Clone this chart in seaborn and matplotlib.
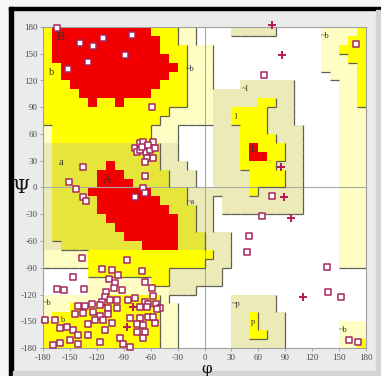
import numpy as np
import pandas as pd
import matplotlib
matplotlib.use("Agg")
import matplotlib.pyplot as plt
import seaborn as sns
from matplotlib.colors import ListedColormap
from matplotlib.collections import LineCollection
from matplotlib.patches import Rectangle

# ---------------- data ----------------
# Region map, 10-degree cells. Rows: psi 170..180 (top) down to -180..-170 (bottom)
# Columns: phi -180..-170 (left) to 170..180 (right)
# R core, Y allowed (b/l/p), A allowed (a), P generous (~b), Q generous (~a/~l/~p), W disallowed
REGION_ROWS = [
    "YRRRRR" "RRRRRR" "YYYPPW" "WWWQQQ" "QQWWWW" "WPPPPY",  # 170
    "YRRRRR" "RRRRRR" "RYYPPW" "WWWWWW" "WWWWWW" "WPPPYY",  # 160
    "YRRRRR" "RRRRRR" "RYYYPP" "PWWWWW" "WWWWWW" "WPPYYY",  # 150
    "YRRRRR" "RRRRRR" "RRYYPP" "PWWWWW" "WWWWWW" "WPPPYY",  # 140
    "YYRRRR" "RRRRRR" "RRRYPP" "PWWWWW" "WWWWWW" "WPPPPY",  # 130
    "YYRRRR" "RRRRRR" "RRYYPP" "PWWWWW" "WWWWWW" "WWPPPY",  # 120
    "YYYRRR" "RRRRRR" "RYYYPP" "PWWWQQ" "QQQQWW" "WWWPPY",  # 110
    "YYYYRR" "RRRRRR" "YYYYPP" "PQQQQQ" "QQQQWW" "WWWPPY",  # 100
    "YYYYYR" "YYRYYY" "YYYYPP" "PQQQQQ" "YYQQWW" "WWWPPY",  # 90
    "YYYYYY" "YYYYYY" "YYPPPP" "PQQYYY" "YQQQWW" "WWWPPP",  # 80
    "YYYYYY" "YYYYYY" "YPPPPP" "PQQYYY" "YQQQWW" "WWWPPP",  # 70
    "PYYYYY" "YYYYYY" "PPPWWW" "WQQQYY" "YQQQQW" "WWWPPP",  # 60
    "PYYYYY" "YYYYYY" "PPPWWW" "WQQQYY" "YYQQQW" "WWWPPP",  # 50
    "QAAAAA" "AAAAAA" "AQQWWW" "WQQQYR" "YYYQQW" "WWWPPP",  # 40
    "QAAAAA" "AAAAAA" "AQQWWW" "WQQQYR" "RYYQQW" "WWWPPP",  # 30
    "QAAAAA" "ARAAAA" "AQQQWW" "WQQQYY" "YYQQQW" "WWWPPP",  # 20
    "QAAAAA" "RRRAAA" "AAQQQW" "WQQQQY" "YYYQQW" "WWWPPP",  # 10
    "QAAAAA" "RRRRAA" "AAQQQW" "WQQQQY" "YYYQQW" "WWWPPP",  # 0
    "QAAAAR" "RRRRRR" "AAAAQQ" "QQQQQY" "QQQQQW" "WWWPPP",  # -10
    "QAAAAA" "RRRRRR" "RAAAQQ" "QWQQQQ" "QQQQQW" "WWWPPP",  # -20
    "QAAAAA" "RRRRRR" "RRAAAQ" "QWQQQQ" "QQQQQW" "WWWPPP",  # -30
    "QAAAAA" "ARRRRR" "RRRAAQ" "QWWWWW" "WWWWWW" "WWWPPP",  # -40
    "QAAAAA" "AARRRR" "RRRAAQ" "QWWWWW" "WWWWWW" "WWWPPP",  # -50
    "QAAAAA" "AAARRR" "RRRAAA" "QQQWWW" "WWWWWW" "WWWPPP",  # -60
    "QQAAAA" "AAAAAR" "RRRAAA" "QQQWWW" "WWWWWW" "WWWPPP",  # -70
    "PPPPPY" "YYYYYY" "YYYYYY" "YQQWWW" "WWWWWW" "WWWPPP",  # -80
    "PPPPPY" "YYYYYY" "YYYYYY" "QQQWWW" "WWWWWW" "WWWPPP",  # -90
    "WWWWWY" "YYYYYY" "YYQQQQ" "QQWWWW" "WWWWWW" "WWWWWW",  # -100
    "WWWWWP" "PPPPPP" "YYQQQQ" "QQWWWW" "WWWWWW" "WWWWWW",  # -110
    "WWWWWP" "PPPPPP" "PPQQQW" "WWWWWW" "WWWWWW" "WWWWWW",  # -120
    "PPPPPP" "PYYYYY" "YPWWWW" "WWWQQQ" "QQWWWW" "WWWWWW",  # -130
    "PPPYYY" "YYYYYY" "YPPWWW" "WWWQQQ" "QQWWWW" "WWWWWW",  # -140
    "PYYYYY" "YYYYYY" "YPPWWW" "WWWQQY" "QQQWWW" "WWWWWW",  # -150
    "YYYYYY" "YYYYYY" "YPPWWW" "WWWQQY" "QQQWWW" "WWWPPP",  # -160
    "YYYYYY" "YYYYYY" "YPPWWW" "WWWQQY" "YQQWWW" "WWWPPP",  # -170
    "YYYYYY" "YYYYYY" "YPPWWW" "WWWQQQ" "QQQWWW" "WWWPPY",  # -180
]
REGION_CODES = ["W", "P", "Q", "Y", "A", "R"]
REGION_COLORS = ["#ffffff", "#fefec4", "#ecebb8", "#ffff00", "#e6e63a", "#f20000"]
REGION_LEVEL = {"W": 0, "P": 1, "Q": 1, "Y": 2, "A": 2, "R": 3}

square_phi = [-164, -138.5, -124.6, -113, -81, -129.4, -151.7, -88.5, -58.8,
              -77.4, -71.8, -68.1, -56.9, -65.1, -75.5, -60.7, -55.1, -71.8, -64.4,
              -56.9, -66.3, -69.9, -62.5,
              -135, -150.6, -143.2, -135, -132, -66.3, -68.1, -66.3, -77.4,
              -136.8, -86.7, -114.6, -103.4, -69.9, -146.1, -106.0, -96.7, -99.7,
              -65.9, -164.7, -156.5, -134.2, -100.8, -92.3, -110.1, -57.0, -58.8,
              -110.8, -105.3, -97.1, -114.6, -77.4, -84.8, -66.2, -62.5, -54.0,
              -49.5, -140.6, -133.1, -125.7, -116.4, -107.1, -97.1, -71.8, -64.4,
              -53.2, -144.3, -135.0, -123.8, -107.1, -116.4, -83.0, -71.8, -62.5,
              -177.7, -166.6, -129.4, -122.0, -112.7, -103.4, -153.6, -146.1,
              -161.0, -75.5, -68.1, -55.1, -110.8, -75.5, -66.2, -140.6, -129.4,
              -94.1, -68.1, -149.9, -168.4, -161.0, -140.6, -116.4, -90.4, -83.0,
              -57.7,
              66.8, 168.6, 75, 64.5, 50, 47.8, 136.3, 138.1, 152.2, 160.8, 171.5]
square_psi = [179, 162.2, 158.5, 167.2, 170.6, 141.3, 133, 148.2, 90,
              44.0, 49.6, 51.4, 51.4, 40.2, 40.2, 42.1, 44.0, 42.1, 32.7,
              32.7, 29.0, 45.8, 47.7,
              23.4, 6.6, -1.6, -10.2, -15.1, 13.3, -0.1, -5.7, -10.2,
              -78.6, -81.2, -91.3, -92.0, -93.5, -100.3, -102.5, -98.0, -107.0,
              -106.2, -114.1, -114.8, -114.1, -113.0, -114.5, -117.5, -121.2, -112.2,
              -122.3, -126.0, -126.0, -127.9, -123.4, -126.0, -127.9, -130.9, -130.9,
              -134.6, -132.4, -132.4, -130.9, -131.7, -134.6, -135.4, -133.5, -134.3,
              -136.5, -142.1, -141.0, -139.1, -142.1, -143.6, -146.6, -146.6, -144.7,
              -148.5, -148.5, -153.3, -148.5, -148.5, -152.2, -156.0, -159.7,
              -157.8, -153.3, -154.1, -152.2, -159.7, -162.3, -161.5, -165.3, -165.3,
              -168.3, -169.0, -170.9, -176.5, -174.6, -175.7, -173.5, -175.7, -178.4,
              -144.7,
              126.2, 161, -9.4, -31.5, -54.3, -71.8, -88.7, -116.7, -122.3, -170.9, -173.5]
plus_phi = [75, 86.1, 85.3, 88.7, 96.5, 110.2, -80.0, -85.9]
plus_psi = [182, 149, 23.5, -10.2, -34.5, -122.3, -133.5, -156.0]

TICKS = [-180, -150, -120, -90, -60, -30, 0, 30, 60, 90, 120, 150, 180]

label_text = ["B", "b", "A", "a", "L", "l", "p", "~b", "~b", "~b", "~b", "~a", "~l", "~p", "b"]
label_phi = [-160, -170, -109, -160, 55, 35, 54, -16, 134, -175, 155, -15, 45, 35, -159]
label_psi = [169, 129, 8, 28, 43, 79, -151, 133, 170, -130, -160, -16, 110, -131, -149]
label_size = [8.5, 7.5, 8.5, 7.5, 7, 6, 6, 6, 6, 6, 6, 6, 6, 6, 6]

# ---------------- figure ----------------
W_PX, H_PX = 381, 376
fig = plt.figure(figsize=(W_PX / 100, H_PX / 100), dpi=100)
fig.patch.set_facecolor("#ebebeb")


def fx(px):
    return px / W_PX


def fy(py):
    return 1 - py / H_PX


# outer frame decorations
fig.patches.append(Rectangle((0, 0), fx(9), 1, transform=fig.transFigure, color="#f6f6f6", zorder=0))
fig.patches.append(Rectangle((0, fy(7)), 1, 7 / H_PX, transform=fig.transFigure, color="#f6f6f6", zorder=0))
fig.patches.append(Rectangle((fx(9), 0), 4 / W_PX, fy(7), transform=fig.transFigure, color="#000000", zorder=0))
fig.patches.append(Rectangle((fx(9), fy(10)), 1 - fx(9), 3 / H_PX, transform=fig.transFigure, color="#000000", zorder=0))
fig.patches.append(Rectangle((fx(376), 0), 5 / W_PX, fy(10), transform=fig.transFigure, color="#d4d4d4", zorder=0))
fig.patches.append(Rectangle((fx(13), 0), 1, 5 / H_PX, transform=fig.transFigure, color="#d4d4d4", zorder=0))

ax = fig.add_axes([fx(43), fy(348), fx(366) - fx(43), fy(27) - fy(348)])

# region map
code_idx = {c: i for i, c in enumerate(REGION_CODES)}
grid = np.array([[code_idx[ch] for ch in row] for row in REGION_ROWS])
assert grid.shape == (36, 36)
grid_up = grid[::-1]  # row 0 -> psi -180
edges = np.arange(-180, 181, 10)
ax.pcolormesh(edges, edges, grid_up, cmap=ListedColormap(REGION_COLORS),
              vmin=-0.5, vmax=len(REGION_CODES) - 0.5, shading="flat", zorder=0)

# dark border segments (right/bottom edges of higher regions)
segs = []
for r in range(36):
    psi_top = 180 - 10 * r
    for c in range(35):
        a, b = REGION_ROWS[r][c], REGION_ROWS[r][c + 1]
        if "R" in (a, b):
            continue
        if REGION_LEVEL[a] > REGION_LEVEL[b]:
            x = -180 + 10 * (c + 1)
            segs.append([(x, psi_top - 10), (x, psi_top)])
for r in range(35):
    y = 180 - 10 * (r + 1)
    for c in range(36):
        a, b = REGION_ROWS[r][c], REGION_ROWS[r + 1][c]
        if "R" in (a, b):
            continue
        if REGION_LEVEL[a] > REGION_LEVEL[b]:
            x0 = -180 + 10 * c
            segs.append([(x0, y), (x0 + 10, y)])
ax.add_collection(LineCollection(segs, colors="#5e5e52", linewidths=0.9, zorder=2))

# zero lines
ax.axvline(0, color="#a8a8a8", lw=0.8, zorder=1.5)
ax.axhline(0, color="#a8a8a8", lw=0.8, zorder=1.5)

# labels of regions
for t, x, y, s in zip(label_text, label_phi, label_psi, label_size):
    ax.text(x, y, t, fontsize=s, family="Liberation Serif", color="#333333",
            ha="center", va="center", zorder=3)

# residues
sq = pd.DataFrame({"phi": square_phi, "psi": square_psi})
pl = pd.DataFrame({"phi": plus_phi, "psi": plus_psi})
sns.scatterplot(data=sq, x="phi", y="psi", ax=ax, marker="s", s=22,
                facecolor="white", edgecolor="#a5285f", linewidth=1.1,
                zorder=5, clip_on=False, legend=False)
sns.scatterplot(data=pl, x="phi", y="psi", ax=ax, marker="+", s=38,
                color="#b91950", linewidth=1.4, zorder=6, clip_on=False, legend=False)

ax.set_xlim(-180, 180)
ax.set_ylim(-180, 180)
ax.set_xticks(TICKS)
ax.set_yticks(TICKS)
ax.set_xticklabels([str(t) for t in TICKS])
ax.set_yticklabels([str(t) for t in TICKS])
ax.tick_params(length=2, width=0.6, color="#999999", labelsize=6.5, labelcolor="#4a4a4a", pad=2)
for lab in ax.get_xticklabels() + ax.get_yticklabels():
    lab.set_family("Liberation Serif")
ax.set_xlabel("")
ax.set_ylabel("")
for sp in ax.spines.values():
    sp.set_color("#a0a0a0")
    sp.set_linewidth(0.8)

fig.text(fx(21), fy(188), "Ψ", fontsize=14, family="DejaVu Serif", ha="center", va="center", color="#111111")
fig.text(fx(207), fy(369.5), "φ", fontsize=11, family="DejaVu Serif", ha="center", va="center", color="#111111")

fig.savefig("out.png", dpi=100, facecolor=fig.get_facecolor())
